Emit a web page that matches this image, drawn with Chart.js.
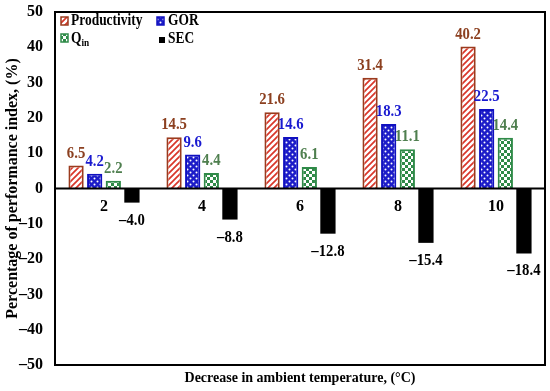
<!DOCTYPE html>
<html>
<head>
<meta charset="utf-8">
<script src="https://cdn.jsdelivr.net/npm/chart.js@4.4.0/dist/chart.umd.min.js"></script>
<style>
  html, body { margin: 0; padding: 0; background: #fff; }
  #wrap { width: 550px; height: 391px; }
</style>
</head>
<body>
<div id="wrap"><canvas id="chart" width="550" height="391"></canvas></div>
<script>
// chart values
const categories = ["2", "4", "6", "8", "10"];
const productivity = [6.5, 14.5, 21.6, 31.4, 40.2];
const gor = [4.2, 9.6, 14.6, 18.3, 22.5];
const qin = [2.2, 4.4, 6.1, 11.1, 14.4];
const sec = [-4.0, -8.8, -12.8, -15.4, -18.4];
const yTicks = [-50, -40, -30, -20, -10, 0, 10, 20, 30, 40, 50];

const FONT = "'Liberation Serif', 'Times New Roman', serif";

// fill patterns
function makePattern(size, draw) {
    const c = document.createElement("canvas");
    c.width = size;
    c.height = size;
    const g = c.getContext("2d");
    draw(g, size);
    return g.createPattern(c, "repeat");
}

const hatch = makePattern(6, (g, s) => {
    g.fillStyle = "#fff";
    g.fillRect(0, 0, s, s);
    g.strokeStyle = "#d9362a";
    g.lineWidth = 1.7;
    g.beginPath();
    g.moveTo(-1, s + 1); g.lineTo(s + 1, -1);
    g.moveTo(-1, 1); g.lineTo(1, -1);
    g.moveTo(s - 1, s + 1); g.lineTo(s + 1, s - 1);
    g.stroke();
});

const dots = makePattern(6, (g, s) => {
    g.fillStyle = "#1c1cc8";
    g.fillRect(0, 0, s, s);
    g.fillStyle = "#fff";
    g.beginPath();
    g.arc(1.5, 1.5, 1, 0, Math.PI * 2);
    g.arc(4.5, 4.5, 1, 0, Math.PI * 2);
    g.fill();
});

const checker = makePattern(6, (g, s) => {
    g.fillStyle = "#fff";
    g.fillRect(0, 0, s, s);
    g.fillStyle = "#2f8a48";
    g.fillRect(0, 0, 3, 3);
    g.fillRect(3, 3, 3, 3);
});

const labelColors = ["#8c4020", "#1a1ad0", "#4f7f4f", "#000"];

// text squeezed a little horizontally, like the original figure
function narrowText(ctx, text, x, y, sx) {
    ctx.save();
    ctx.translate(x, y);
    ctx.scale(sx, 1);
    ctx.fillText(text, 0, 0);
    ctx.restore();
}

// value labels above / below bars
const valueLabels = {
    id: "valueLabels",
    afterDatasetsDraw(chart) {
        const ctx = chart.ctx;
        ctx.save();
        ctx.font = "bold 16px " + FONT;
        ctx.textAlign = "center";
        ctx.textBaseline = "alphabetic";
        chart.data.datasets.forEach((ds, i) => {
            const meta = chart.getDatasetMeta(i);
            meta.data.forEach((bar, j) => {
                const v = ds.data[j];
                ctx.fillStyle = labelColors[i];
                if (v >= 0) {
                    narrowText(ctx, v.toFixed(1), bar.x, bar.y - 8, 0.92);
                } else {
                    narrowText(ctx, "\u2013" + Math.abs(v).toFixed(1), bar.x, bar.y + 22, 0.92);
                }
            });
        });
        ctx.restore();
    }
};

// frame, zero line and legend
const frame = {
    id: "frame",
    afterDraw(chart) {
        const ctx = chart.ctx;
        const a = chart.chartArea;
        const y0 = chart.scales.y.getPixelForValue(0);
        ctx.save();
        ctx.strokeStyle = "#000";
        ctx.lineWidth = 2;
        ctx.strokeRect(a.left, a.top, a.right - a.left, a.bottom - a.top);
        ctx.beginPath();
        ctx.moveTo(a.left, y0);
        ctx.lineTo(a.right, y0);
        ctx.stroke();

        // legend
        const box = (x, y, w, h, fill, border) => {
            ctx.fillStyle = fill;
            ctx.fillRect(x, y, w, h);
            if (border) {
                ctx.strokeStyle = border;
                ctx.lineWidth = 1.5;
                ctx.strokeRect(x, y, w, h);
            }
        };
        box(61, 17, 7, 8, hatch, "#9b3b1e");
        box(157, 17, 7, 8, dots, "#1010c0");
        box(61, 34, 7, 8, checker, "#2f8a48");
        box(159, 37, 6, 6, "#000", null);

        ctx.fillStyle = "#000";
        ctx.font = "bold 16px " + FONT;
        ctx.textBaseline = "alphabetic";
        ctx.textAlign = "left";
        narrowText(ctx, "Productivity", 71, 25, 0.84);
        narrowText(ctx, "GOR", 168, 25, 0.84);
        narrowText(ctx, "SEC", 168, 43, 0.84);
        narrowText(ctx, "Q", 71, 43, 0.84);
        const qw = ctx.measureText("Q").width * 0.84;
        ctx.font = "bold 11px " + FONT;
        narrowText(ctx, "in", 71 + qw, 46, 0.84);
        ctx.restore();
    }
};

new Chart(document.getElementById("chart"), {
    type: "bar",
    data: {
        labels: categories,
        datasets: [
            { label: "Productivity", data: productivity, backgroundColor: hatch, borderColor: "#9b3b1e", borderWidth: 2 },
            { label: "GOR", data: gor, backgroundColor: dots, borderColor: "#1010c0", borderWidth: 2 },
            { label: "Qin", data: qin, backgroundColor: checker, borderColor: "#2f8a48", borderWidth: 2 },
            { label: "SEC", data: sec, backgroundColor: "#000", borderWidth: 0 }
        ]
    },
    options: {
        responsive: false,
        animation: false,
        categoryPercentage: 0.76,
        barPercentage: 0.82,
        layout: { padding: { top: 12, right: 5, left: 0, bottom: 0 } },
        plugins: {
            legend: { display: false },
            tooltip: { enabled: false }
        },
        scales: {
            x: {
                position: { y: 0 },
                grid: { display: false, drawTicks: false },
                border: { display: false },
                ticks: {
                    color: "#000",
                    padding: 9,
                    font: { family: FONT, size: 16, weight: "bold" }
                }
            },
            x2: {
                type: "category",
                position: "bottom",
                offset: true,
                grid: { display: false, drawTicks: false },
                border: { display: false },
                ticks: { display: false },
                afterFit: s => { s.height = 26; },
                title: {
                    display: true,
                    text: "Decrease in ambient temperature, (\u00b0C)",
                    color: "#000",
                    padding: { top: 4, bottom: 4 },
                    font: { family: FONT, size: 14, weight: "bold" }
                }
            },
            y: {
                min: -50,
                max: 50,
                afterBuildTicks: s => { s.ticks = yTicks.map(v => ({ value: v })); },
                afterFit: s => { s.width = 55; s.paddingTop = 0; s.paddingBottom = 0; },
                grid: { display: false, drawTicks: false },
                border: { display: false },
                ticks: {
                    color: "#000",
                    padding: 12,
                    font: { family: FONT, size: 16, weight: "bold" },
                    callback: v => v < 0 ? "\u2013" + Math.abs(v) : v
                },
                title: {
                    display: true,
                    text: "Percentage of performance index, (%)",
                    color: "#000",
                    padding: { top: 3, bottom: 3 },
                    font: { family: FONT, size: 16, weight: "bold" }
                }
            }
        }
    },
    plugins: [valueLabels, frame]
});
</script>
</body>
</html>
